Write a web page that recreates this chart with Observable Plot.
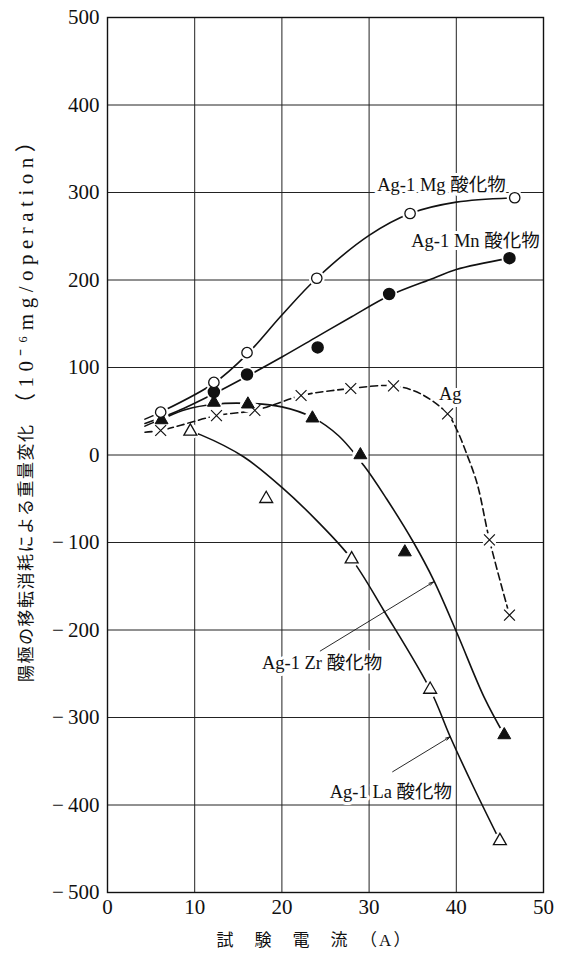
<!DOCTYPE html>
<html><head><meta charset="utf-8">
<script src="https://cdn.jsdelivr.net/npm/d3@7"></script>
<script src="https://cdn.jsdelivr.net/npm/@observablehq/plot@0.6"></script>
<style>body{margin:0;background:#fff;}</style>
</head><body><div id="chart"></div>
<script>
const xTicks = [0, 10, 20, 30, 40, 50];
const yTicks = [500, 400, 300, 200, 100, 0, -100, -200, -300, -400, -500];

// measured points
const mgPts = [[6.1,49],[12.2,83],[16,117],[24,202],[34.7,276],[46.7,294]];
const mnPts = [[12.2,72],[16,92],[24.1,123],[32.3,184],[46.1,225]];
const zrPts = [[6.2,40],[12.2,60],[16.1,58],[23.5,42],[29,0],[34.1,-111],[45.5,-320]];
const laPts = [[9.5,27],[18.2,-50],[28,-119],[37,-268],[45,-441]];
const agPts = [[6.1,28],[12.5,45],[16.9,51],[22.2,68],[27.9,76],[32.8,79],[39,47],[43.8,-97],[46.1,-183]];

// hand-drawn fitted curves
const mgCurve = [[4.3,41],[6.1,49],[12.2,82],[16,115],[20,160],[24,202],[30,251],[34.7,276],[40,289],[46.7,294]];
const mnCurve = [[4.3,36],[8,50],[12.2,70],[16,90],[20,112],[24,135],[28,158],[32.3,182],[37.4,202],[40,212],[46.1,225]];
const zrCurve = [[4.3,33],[6.2,41],[9,52],[12.2,58],[16.1,59],[20,55],[23.5,43],[26.5,22],[29.4,-12],[32,-50],[35.1,-100],[37.4,-143],[40.1,-204],[43.2,-277],[45.5,-320]];
const laCurve = [[9.5,27],[10.7,23],[15.6,-2],[20,-37],[24,-75],[28,-119],[31.7,-178],[37,-268],[39.3,-322],[42,-380],[45,-441]];
const agCurve = [[4.3,26],[6.1,28],[8.4,34],[12.5,45],[16.9,51],[19.8,60],[22.2,68],[27.9,76],[32.8,79],[35.9,70],[39,47],[40.1,28],[41.2,1],[42.4,-33],[43.8,-97],[46.1,-183]];

const labels = [
  {x:38.3, y:308, text:"Ag-1 Mg 酸化物"},
  {x:42.2, y:245, text:"Ag-1 Mn 酸化物"},
  {x:39.3, y:70, text:"Ag"},
  {x:24.6, y:-238, text:"Ag-1 Zr 酸化物"},
  {x:32.5, y:-385, text:"Ag-1 La 酸化物"}
];
const leaders = [
  {x1:24.4, y1:-224, x2:37.4, y2:-145},
  {x1:32.7, y1:-362, x2:39.3, y2:-322}
];
const xTitle = "試　験　電　流　（A）";
const yTitleJa = "陽極の移転消耗による重量変化";
const yTitleUnit = "（10⁻⁶mg/operation）";

const P = a => a.map(([x,y]) => ({x,y}));
const fmtY = d => d < 0 ? "\u2212\u2009" + Math.abs(d) : String(d);
const ink = "#111";
const lineOpt = {x:"x", y:"y", stroke:ink, strokeWidth:1.6, curve:"catmull-rom"};
const halo = (pts, r) => Plot.dot(P(pts), {x:"x", y:"y", r, fill:"white", stroke:"none"});

const chart = Plot.plot({
  width: 563, height: 966,
  marginLeft: 107, marginRight: 20, marginTop: 17, marginBottom: 74,
  style: {fontFamily: "'Liberation Serif','Noto Sans CJK JP',serif", background: "white", color: "black"},
  x: {domain: [0, 50], axis: null},
  y: {domain: [-500, 500], axis: null},
  marks: [
    Plot.gridX(xTicks, {stroke: "#222", strokeOpacity: 1, strokeWidth: 1}),
    Plot.gridY(yTicks, {stroke: "#222", strokeOpacity: 1, strokeWidth: 1}),
    Plot.frame({stroke: ink, strokeWidth: 1.4}),
    Plot.text(xTicks, {x: d => d, frameAnchor: "bottom", dy: 21, text: d => String(d), fontSize: 21, fill: ink}),
    Plot.text(yTicks, {y: d => d, frameAnchor: "left", dx: -8, textAnchor: "end", text: fmtY, fontSize: 21, fill: ink}),
    Plot.line(P(mgCurve), lineOpt),
    Plot.line(P(mnCurve), lineOpt),
    Plot.line(P(zrCurve), lineOpt),
    Plot.line(P(laCurve), lineOpt),
    Plot.line(P(agCurve), {...lineOpt, strokeDasharray: "7,4"}),
    halo(mgPts, 8), halo(mnPts, 8), halo(zrPts, 8), halo(laPts, 8), halo(agPts, 7),
    Plot.dot(P(agPts), {x:"x", y:"y", symbol:"times", r:5, stroke:ink, strokeWidth:1.2}),
    Plot.dot(P(laPts), {x:"x", y:"y", symbol:"triangle", r:4.8, fill:"white", stroke:ink, strokeWidth:1.3}),
    Plot.dot(P(zrPts), {x:"x", y:"y", symbol:"triangle", r:4.8, fill:ink, stroke:ink, strokeWidth:1}),
    Plot.dot(P(mnPts), {x:"x", y:"y", symbol:"circle", r:5.5, fill:ink, stroke:ink}),
    Plot.dot(P(mgPts), {x:"x", y:"y", symbol:"circle", r:5.2, fill:"white", stroke:ink, strokeWidth:1.3}),
    Plot.arrow(leaders, {x1:"x1", y1:"y1", x2:"x2", y2:"y2", stroke:ink, strokeWidth:0.9, headLength:8, headAngle:30}),
    Plot.text(labels, {x:"x", y:"y", text:"text", fontSize:18.5, fill:ink, stroke:"white", strokeWidth:6}),
    Plot.text([xTitle], {frameAnchor:"bottom", dx:-11, dy:53, fontSize:17, fill:ink}),
    Plot.text([yTitleJa], {frameAnchor:"left", dx:-81, dy:227, rotate:-90, textAnchor:"start", fontSize:17, fill:ink}),
    Plot.text([yTitleUnit], {frameAnchor:"left", dx:-81, dy:-41, rotate:-90, textAnchor:"start", fontSize:21, fill:ink})
  ]
});
const sel = d3.select(chart).selectAll("text");
sel.filter(function(){ return this.textContent === yTitleJa; }).attr("letter-spacing", "1.5px");
sel.filter(function(){ return this.textContent === yTitleUnit; }).attr("letter-spacing", "5.5px");
sel.filter(function(){ return this.textContent === xTitle; }).attr("letter-spacing", "2px");
document.getElementById("chart").appendChild(chart);
</script>
</body></html>
